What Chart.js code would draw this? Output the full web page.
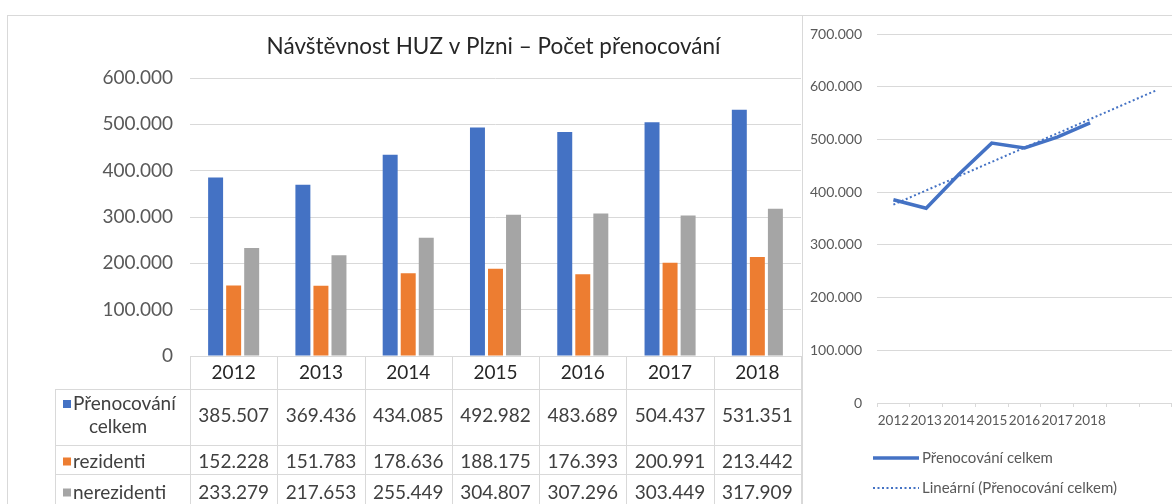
<!DOCTYPE html>
<html><head><meta charset="utf-8">
<script src="https://cdn.jsdelivr.net/npm/chart.js@4"></script>
<style>
html,body{margin:0;padding:0;background:#fff;}
body{width:1172px;height:504px;position:relative;overflow:hidden;font-family:Lato,sans-serif;}
.frame{position:absolute;border-left:1px solid #d9d9d9;border-top:1px solid #d9d9d9;box-sizing:border-box;}
#frameL{left:7px;top:15px;width:796px;height:489px;}
#frameR{left:802px;top:15px;width:370px;height:489px;}
#left{position:absolute;left:0;top:0;}
#right{position:absolute;left:802px;top:0;}
</style>
</head><body>
<div class="frame" id="frameL"></div>
<div class="frame" id="frameR"></div>
<canvas id="left" width="802" height="504"></canvas>
<canvas id="right" width="370" height="504"></canvas>
<script>
const chartTitle = 'Návštěvnost HUZ v Plzni – Počet přenocování';
const years = ['2012','2013','2014','2015','2016','2017','2018'];
const seriesNames = ['Přenocování celkem','rezidenti','nerezidenti'];
const totalStays = [385507,369436,434085,492982,483689,504437,531351];
const residents = [152228,151783,178636,188175,176393,200991,213442];
const nonResidents = [233279,217653,255449,304807,307296,303449,317909];
const seriesColors = ['#4472C4','#ED7D31','#A5A5A5'];
const trendName = 'Lineární (Přenocování celkem)';
const trendLabels = ['2012','2013','2014','2015','2016','2017','2018','',''];
const trendValues = [376234,null,null,null,null,null,null,null,592559];

const fmt = v => v === 0 ? '0' : String(v).replace(/\B(?=(\d{3})+(?!\d))/g, '.');
const FONT = 'Lato';

const titlePlugin = {
  id: 'ctitle',
  afterDraw(chart) {
    const ctx = chart.ctx, a = chart.chartArea;
    ctx.save();
    ctx.fillStyle = '#262626';
    ctx.font = '22.5px ' + FONT;
    ctx.textAlign = 'center';
    ctx.textBaseline = 'middle';
    ctx.fillText(chartTitle, (a.left + a.right) / 2 - 2, 47);
    ctx.restore();
  }
};

const tablePlugin = {
  id: 'dataTable',
  afterDraw(chart) {
    const ctx = chart.ctx, xs = chart.scales.x, a = chart.chartArea;
    const n = years.length, w = (xs.right - xs.left) / n;
    const y0 = a.bottom, y1 = y0 + 33, y2 = y1 + 56, y3 = y2 + 29, yEnd = 505;
    const labelLeft = 55;
    ctx.save();
    ctx.strokeStyle = '#d9d9d9';
    ctx.lineWidth = 1;
    ctx.beginPath();
    ctx.moveTo(xs.left, y0 + 0.5); ctx.lineTo(xs.right, y0 + 0.5);
    [y1, y2, y3].forEach(y => { ctx.moveTo(labelLeft, y + 0.5); ctx.lineTo(xs.right, y + 0.5); });
    for (let i = 0; i <= n; i++) {
      const x = Math.round(xs.left + i * w) + 0.5;
      ctx.moveTo(x, y0); ctx.lineTo(x, yEnd);
    }
    ctx.moveTo(labelLeft + 0.5, y1); ctx.lineTo(labelLeft + 0.5, yEnd);
    ctx.stroke();

    ctx.font = '19px ' + FONT;
    ctx.textBaseline = 'middle';
    ctx.textAlign = 'center';
    ctx.fillStyle = '#262626';
    years.forEach((yr, i) => ctx.fillText(yr, xs.getPixelForValue(i), (y0 + y1) / 2));
    ctx.fillStyle = '#404040';
    const rowsData = [totalStays, residents, nonResidents];
    const rowY = [(y1 + y2) / 2 - 1, (y2 + y3) / 2 + 2, (y3 + yEnd) / 2 + 3];
    rowsData.forEach((arr, r) => arr.forEach((v, i) => ctx.fillText(fmt(v), xs.getPixelForValue(i), rowY[r])));

    ctx.textAlign = 'left';
    const keyX = 63, textX = 73;
    const first = seriesNames[0].split(' ');
    ctx.fillStyle = seriesColors[0]; ctx.fillRect(keyX, rowY[0] - 16, 8, 8);
    ctx.fillStyle = '#404040';
    ctx.fillText(first[0], textX, rowY[0] - 12);
    ctx.textAlign = 'center';
    ctx.fillText(first[1], 118, rowY[0] + 11);
    ctx.textAlign = 'left';
    for (let r = 1; r < 3; r++) {
      ctx.fillStyle = seriesColors[r]; ctx.fillRect(keyX, rowY[r] - 4, 8, 8);
      ctx.fillStyle = '#404040';
      ctx.fillText(seriesNames[r], textX, rowY[r]);
    }
    ctx.restore();
  }
};

new Chart(document.getElementById('left'), {
  type: 'bar',
  data: {
    labels: years,
    datasets: [
      {label: seriesNames[0], data: totalStays, backgroundColor: seriesColors[0]},
      {label: seriesNames[1], data: residents, backgroundColor: seriesColors[1]},
      {label: seriesNames[2], data: nonResidents, backgroundColor: seriesColors[2]}
    ]
  },
  options: {
    responsive: false, animation: false,
    datasets: {bar: {categoryPercentage: 0.62, barPercentage: 0.83}},
    layout: {padding: {left: 0, right: 1, top: 78, bottom: 148}},
    plugins: {legend: {display: false}, tooltip: {enabled: false}, title: {display: false}},
    scales: {
      x: {display: false},
      y: {
        min: 0, max: 600000,
        ticks: {stepSize: 100000, callback: fmt, color: '#595959', font: {family: FONT, size: 19}, padding: 17},
        grid: {color: '#d9d9d9', drawTicks: false},
        border: {display: false},
        afterFit(s) { s.width = 190; }
      }
    }
  },
  plugins: [titlePlugin, tablePlugin]
});

const legendPlugin = {
  id: 'sideLegend',
  afterDraw(chart) {
    const ctx = chart.ctx;
    const ds = chart.data.datasets;
    const items = [{y: 458, ds: ds[0]}, {y: 488, ds: ds[1]}];
    ctx.save();
    items.forEach(it => {
      ctx.strokeStyle = it.ds.borderColor;
      ctx.lineWidth = it.ds.borderWidth;
      ctx.setLineDash(it.ds.borderDash || []);
      ctx.beginPath();
      ctx.moveTo(71, it.y); ctx.lineTo(117, it.y);
      ctx.stroke();
      ctx.setLineDash([]);
      ctx.fillStyle = '#595959';
      ctx.font = '15px ' + FONT;
      ctx.textBaseline = 'middle';
      ctx.textAlign = 'left';
      ctx.fillText(it.ds.label, 120, it.y);
    });
    ctx.restore();
  }
};

new Chart(document.getElementById('right'), {
  type: 'line',
  data: {
    labels: trendLabels,
    datasets: [
      {label: seriesNames[0], data: totalStays, borderColor: '#4472C4', borderWidth: 3.5, pointRadius: 0, tension: 0, fill: false},
      {label: trendName, data: trendValues, borderColor: '#4472C4', borderWidth: 2, borderDash: [2, 2.5], pointRadius: 0, spanGaps: true, fill: false}
    ]
  },
  options: {
    responsive: false, animation: false,
    layout: {padding: {left: 0, right: 0, top: 34, bottom: 71}},
    plugins: {legend: {display: false}, tooltip: {enabled: false}},
    scales: {
      x: {
        offset: true,
        grid: {offset: true, drawOnChartArea: false, color: '#d9d9d9', tickLength: 4},
        border: {color: '#d9d9d9'},
        ticks: {autoSkip: false, maxRotation: 0, color: '#595959', font: {family: FONT, size: 13.5}, padding: 6},
        afterFit(s) { s.height = 30; }
      },
      y: {
        min: 0, max: 700000,
        ticks: {stepSize: 100000, callback: fmt, color: '#595959', font: {family: FONT, size: 14}, padding: 15},
        grid: {color: '#d9d9d9', drawTicks: false},
        border: {display: false},
        afterFit(s) { s.width = 75; }
      }
    }
  },
  plugins: [legendPlugin]
});
</script>
</body></html>
